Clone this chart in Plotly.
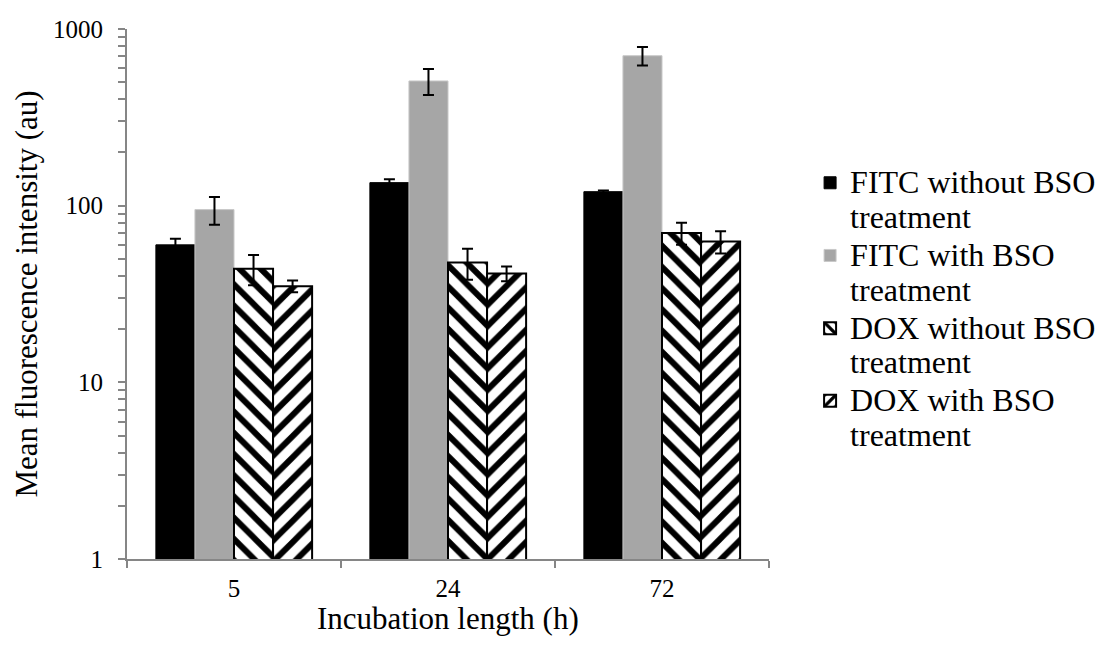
import plotly.graph_objects as go

categories = ["5", "24", "72"]
series_names = [
    "FITC without BSO<br>treatment",
    "FITC with BSO<br>treatment",
    "DOX without BSO<br>treatment",
    "DOX with BSO<br>treatment",
]
fitc_without = [60, 135, 120]
fitc_without_err = [5, 6, 2]
fitc_with = [95, 508, 706]
fitc_with_err = [17, 85, 85]
dox_without = [44, 47.6, 70]
dox_without_err = [8.5, 9.5, 10]
dox_with = [35, 41.3, 62.6]
dox_with_err = [2.7, 4, 9]

y_tickvals = [1, 10, 100, 1000]
y_ticktext = ["1", "10", "100", "1000"]
minor_mult = [2, 3, 4, 5, 6, 7, 8, 9]
minor_vals = [m * d for d in [1, 10, 100] for m in minor_mult]

x_title = "Incubation length (h)"
y_title = "Mean fluorescence intensity (au)"

FONT = "Liberation Serif, Times New Roman, serif"
AXIS_GRAY = "#868686"

def err(arr):
    return dict(type="data", array=arr, visible=True, color="black",
                thickness=2, width=5.5)

def lbl(s):
    parts = s.split("<br>")
    return "<br>".join('<span style="font-size:32px">%s</span>' % p for p in parts)

fig = go.Figure()
fig.add_trace(go.Bar(
    x=categories, y=fitc_without, name=lbl(series_names[0]),
    marker=dict(color="black", line=dict(color="black", width=1)),
    error_y=err(fitc_without_err)))
fig.add_trace(go.Bar(
    x=categories, y=fitc_with, name=lbl(series_names[1]),
    marker=dict(color="#A6A6A6", line=dict(color="#C8C8C8", width=1)),
    error_y=err(fitc_with_err)))
fig.add_trace(go.Bar(
    x=categories, y=dox_without, name=lbl(series_names[2]),
    marker=dict(color="white", line=dict(color="black", width=2),
                pattern=dict(shape="\\", fgcolor="black", bgcolor="white",
                             fgopacity=1, fillmode="replace",
                             size=15, solidity=0.4)),
    error_y=err(dox_without_err)))
fig.add_trace(go.Bar(
    x=categories, y=dox_with, name=lbl(series_names[3]),
    marker=dict(color="white", line=dict(color="black", width=2),
                pattern=dict(shape="/", fgcolor="black", bgcolor="white",
                             fgopacity=1, fillmode="replace",
                             size=15, solidity=0.4)),
    error_y=err(dox_with_err)))

fig.update_layout(
    width=1099, height=649,
    margin=dict(l=127, r=330, t=29, b=90, autoexpand=False),
    paper_bgcolor="white", plot_bgcolor="white",
    barmode="group", bargap=0.27, bargroupgap=0,
    font=dict(family=FONT, color="black", size=25),
    showlegend=True,
    legend=dict(x=1.064, xanchor="left", y=0.755, yanchor="top",
                valign="top", font=dict(family=FONT, size=26.8, color="black"),
                tracegroupgap=0, bgcolor="rgba(0,0,0,0)"),
    annotations=[dict(text=x_title, xref="paper", yref="paper",
                      x=0.5, y=-0.113, xanchor="center", yanchor="middle",
                      showarrow=False,
                      font=dict(family=FONT, size=31, color="black"))],
)
fig.update_xaxes(
    type="category", showline=True, linecolor=AXIS_GRAY, linewidth=2,
    ticks="outside", tickson="boundaries", ticklen=7, tickcolor=AXIS_GRAY,
    tickwidth=1.5, showgrid=False, zeroline=False,
    tickfont=dict(family=FONT, size=25, color="black"),
    ticklabelstandoff=6,
)
fig.update_yaxes(
    type="log", range=[0, 3], showline=True, linecolor=AXIS_GRAY, linewidth=2,
    tickmode="array", tickvals=y_tickvals, ticktext=y_ticktext,
    ticks="outside", ticklen=7, tickcolor=AXIS_GRAY, tickwidth=1.5,
    minor=dict(tickmode="array", tickvals=minor_vals, ticks="outside",
               ticklen=7, tickcolor=AXIS_GRAY, tickwidth=1.5, showgrid=False),
    showgrid=False, zeroline=False,
    tickfont=dict(family=FONT, size=25, color="black"),
    ticklabelstandoff=10,
    title=dict(text=y_title, standoff=6,
               font=dict(family=FONT, size=31, color="black")),
)

fig.write_html("out.html")
